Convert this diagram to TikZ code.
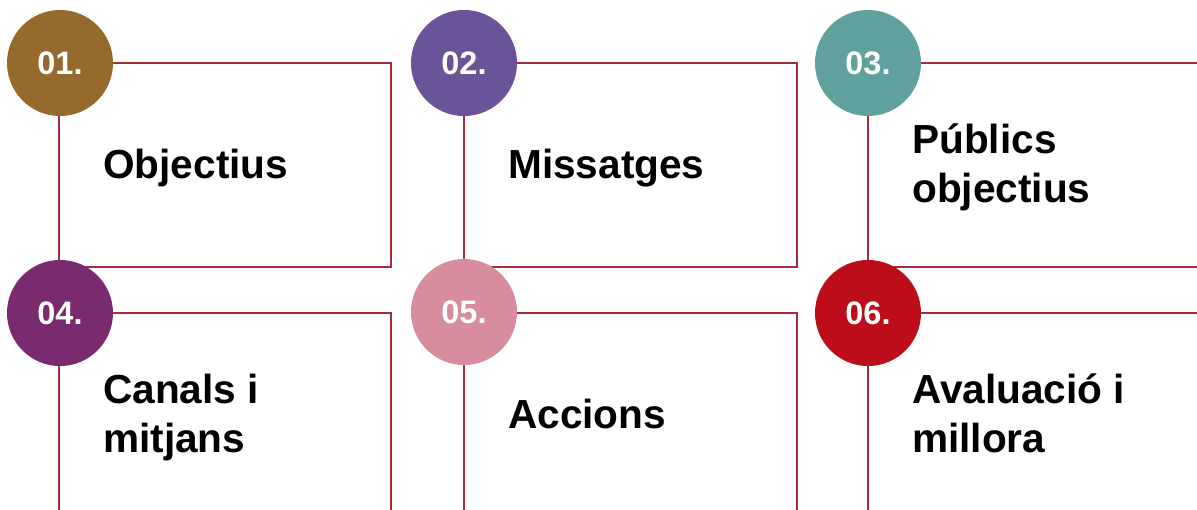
\documentclass[tikz,border=0pt]{standalone}
\usepackage{fontspec}
\setmainfont{Liberation Sans}
\definecolor{framec}{RGB}{164,46,62}
\definecolor{cA}{RGB}{150,105,45}
\definecolor{cB}{RGB}{106,83,152}
\definecolor{cC}{RGB}{96,161,157}
\definecolor{cD}{RGB}{122,42,110}
\definecolor{cE}{RGB}{215,141,157}
\definecolor{cF}{RGB}{190,13,26}
\tikzset{
  frame/.style={draw=framec, line width=2.4pt},
  numdisc/.style={circle, minimum size=106pt, inner sep=0pt, text=white, font=\fontsize{32.5}{38}\selectfont\bfseries},
  lbl/.style={anchor=base west, inner sep=0pt, font=\fontsize{40.6}{49}\selectfont\bfseries, align=left}
}
\begin{document}
\begin{tikzpicture}[x=1pt,y=-1pt]
\useasboundingbox (0,0) rectangle (1197,509);
\clip (0,0) rectangle (1197,509);
% frames
\draw[frame] (59,63) rectangle (391,267);
\draw[frame] (464,63) rectangle (797,267);
\draw[frame] (868,63) rectangle (1240,267);
\draw[frame] (59,313) rectangle (391,540);
\draw[frame] (464,313) rectangle (797,540);
\draw[frame] (868,313) rectangle (1240,540);
% discs
\node[numdisc, fill=cA] (n1) at (60,63) {\raisebox{-2pt}{01.}};
\node[numdisc, fill=cB] (n2) at (464,63) {\raisebox{-2pt}{02.}};
\node[numdisc, fill=cC] (n3) at (868,63) {\raisebox{-2pt}{03.}};
\node[numdisc, fill=cD] (n4) at (60,313) {\raisebox{-2pt}{04.}};
\node[numdisc, fill=cE] (n5) at (464,312) {\raisebox{-2pt}{05.}};
\node[numdisc, fill=cF] (n6) at (868,313) {\raisebox{-2pt}{06.}};
% labels (base = last line)
\node[lbl] (t1) at (103,178) {Objectius};
\node[lbl] (t2) at (508,178) {Missatges};
\node[lbl] (t3) at (912,202) {Públics\\objectius};
\node[lbl] (t4) at (103,452) {Canals i\\mitjans};
\node[lbl] (t5) at (508,428) {Accions};
\node[lbl] (t6) at (912,452) {Avaluació i\\millora};
\end{tikzpicture}
\end{document}
